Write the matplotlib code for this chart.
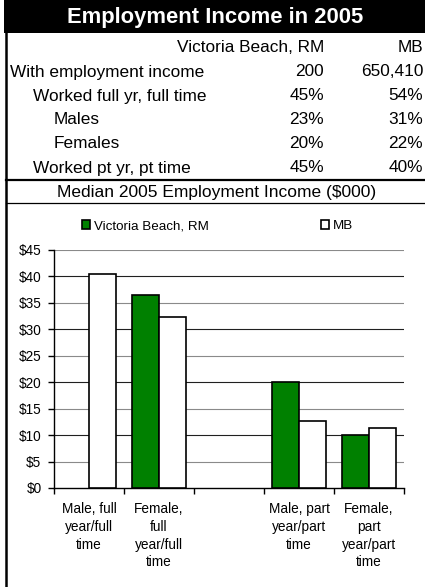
import numpy as np
import matplotlib
matplotlib.use("Agg")
import matplotlib.pyplot as plt
from matplotlib.patches import Rectangle, Patch
from matplotlib.lines import Line2D

plt.rcParams['font.family'] = ['Liberation Sans', 'DejaVu Sans']

# -----------------------
# Data
# -----------------------

title = "Employment Income in 2005"
col_heads = ["Victoria Beach, RM", "MB"]
row_labels = ["With employment income", "Worked full yr, full time",
              "Males", "Females", "Worked pt yr, pt time"]
row_indent = [10, 33, 54, 54, 33]
vb_col = ["200", "45%", "23%", "20%", "45%"]
mb_col = ["650,410", "54%", "31%", "22%", "40%"]

chart_title = "Median 2005 Employment Income ($000)"
categories = ["Male, full\nyear/full\ntime",
              "Female,\nfull\nyear/full\ntime",
              "",
              "Male, part\nyear/part\ntime",
              "Female,\npart\nyear/part\ntime"]
vb_income = [0, 36.4, 0, 20.1, 10.0]
mb_income = [40.5, 32.3, 0, 12.6, 11.3]
series_names = ["Victoria Beach, RM", "MB"]

GREEN = "#008000"

# -----------------------
# Figure
# -----------------------

W, H = 425, 587
fig = plt.figure(figsize=(W / 100, H / 100), dpi=100)


def fx(px):
    return px / W


def fy(py):
    return 1 - py / H


# title bar
fig.add_artist(Rectangle((fx(4), fy(33)), 1 - fx(4), 33 / H,
                         transform=fig.transFigure, color="black", lw=0))
fig.text(fx(215), fy(17), title, color="white", fontsize=15.8,
         fontweight="bold", ha="center", va="center")

# table
fig.text(fx(324), fy(48), col_heads[0], fontsize=12.4, ha="right", va="center")
fig.text(fx(423), fy(48), col_heads[1], fontsize=12.4, ha="right", va="center")
for i, lab in enumerate(row_labels):
    y = fy(72 + i * 24)
    fig.text(fx(row_indent[i]), y, lab, fontsize=12.4, ha="left", va="center")
    fig.text(fx(324), y, vb_col[i], fontsize=12.4, ha="right", va="center")
    fig.text(fx(423), y, mb_col[i], fontsize=12.4, ha="right", va="center")

# frame lines
fig.add_artist(Line2D([fx(6), 1], [fy(180), fy(180)], transform=fig.transFigure,
                      color="black", lw=1.6))
fig.add_artist(Line2D([fx(6), 1], [fy(203), fy(203)], transform=fig.transFigure,
                      color="black", lw=0.9))
fig.add_artist(Line2D([fx(6), fx(6)], [fy(33), 0], transform=fig.transFigure,
                      color="black", lw=1.8))

fig.text(fx(217), fy(192), chart_title, fontsize=12.5, ha="center", va="center")

# -----------------------
# Bar chart
# -----------------------

ax = fig.add_axes([fx(54), fy(488), fx(404) - fx(54), (488 - 250) / H])
x = np.arange(len(categories))
bw = 0.39
b1 = ax.bar(x - bw / 2, vb_income, bw, color=GREEN, edgecolor="black",
            lw=1.2, zorder=3)
b2 = ax.bar(x + bw / 2, mb_income, bw, color="white", edgecolor="black",
            lw=1.2, zorder=3)
# hide the zero-height bars
for b, v in zip(list(b1) + list(b2), vb_income + mb_income):
    if v == 0:
        b.set_visible(False)

ax.set_xlim(-0.5, len(categories) - 0.5)
ax.set_ylim(0, 45)

yt = np.arange(0, 50, 5)
ax.set_yticks(yt)
ax.set_yticklabels([f"${v}" for v in yt], fontsize=9.8)
for v in yt[1:]:
    ax.axhline(v, color="#202020" if v % 10 == 0 else "#8a8a8a", lw=0.8, zorder=1)

ax.set_xticks(np.arange(-0.5, len(categories)))
ax.set_xticklabels([])
ax.set_xticks(x, minor=True)
ax.set_xticklabels(categories, minor=True, fontsize=9.8)
for t in ax.get_xticklabels(minor=True):
    t.set_linespacing(1.35)
ax.tick_params(axis="x", which="major", length=4, width=1, direction="out")
ax.tick_params(axis="x", which="minor", length=0, pad=10)
ax.tick_params(axis="y", length=4, width=1, direction="out", pad=5)

for s in ["top", "right"]:
    ax.spines[s].set_visible(False)
ax.spines["left"].set_linewidth(1)
ax.spines["bottom"].set_linewidth(1)

handles = [Patch(facecolor=GREEN, edgecolor="black", lw=1.2),
           Patch(facecolor="white", edgecolor="black", lw=1.2)]
leg = ax.legend(handles, series_names, ncol=2, frameon=False, fontsize=9.6,
                loc="center left", bbox_to_anchor=(fx(82), fy(226)),
                bbox_transform=fig.transFigure, borderpad=0, borderaxespad=0,
                handlelength=0.6, handleheight=0.6, handletextpad=0.3,
                columnspacing=8.4)

fig.savefig("out.png", dpi=100)
